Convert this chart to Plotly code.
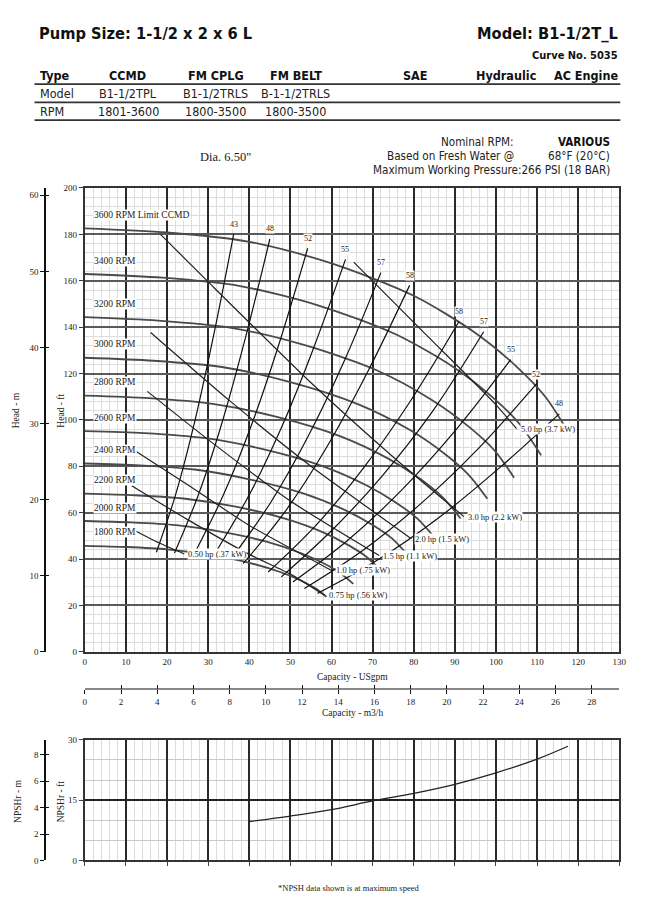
import plotly.graph_objects as go

W, H = 648, 910
GPM_TO_M3H = 0.2271247
FT_TO_M = 0.3048

SERIF = "Liberation Serif, Times New Roman, serif"
SANS = "Liberation Sans Narrow, DejaVu Sans Condensed, Roboto, sans-serif"

# ---------------- data ----------------
RPM_NAMES = ["3600 RPM Limit CCMD", "3400 RPM", "3200 RPM", "3000 RPM", "2800 RPM",
             "2600 RPM", "2400 RPM", "2200 RPM", "2000 RPM", "1800 RPM"]
RPM_Q = [
    [0, 20, 40, 60, 80, 95, 105, 112, 117.5],
    [0, 18.9, 37.8, 56.7, 75.6, 89.7, 99.2, 105.8, 111.0],
    [0, 17.8, 35.6, 53.3, 71.1, 84.4, 93.3, 99.6, 104.4],
    [0, 16.7, 33.3, 50.0, 66.7, 79.2, 87.5, 93.3, 97.9],
    [0, 15.6, 31.1, 46.7, 62.2, 73.9, 81.7, 87.1, 91.4],
    [0, 14.4, 28.9, 43.3, 57.8, 68.6, 75.8, 80.9, 84.9],
    [0, 13.3, 26.7, 40.0, 53.3, 63.3, 70.0, 74.7, 78.3],
    [0, 12.2, 24.4, 36.7, 48.9, 58.1, 64.2, 68.4, 71.8],
    [0, 11.1, 22.2, 33.3, 44.4, 52.8, 58.3, 62.2, 65.3],
    [0, 10.0, 20.0, 30.0, 40.0, 47.5, 52.5, 56.0, 58.75],
]
RPM_H = [
    [182.6, 180.8, 176.8, 167.5, 153.5, 137.5, 123.0, 110.0, 95.0],
    [162.9, 161.3, 157.7, 149.4, 136.9, 122.7, 109.7, 98.1, 84.7],
    [144.3, 142.8, 139.7, 132.3, 121.3, 108.6, 97.2, 86.9, 75.1],
    [126.8, 125.5, 122.8, 116.3, 106.6, 95.5, 85.4, 76.4, 66.0],
    [110.5, 109.4, 106.9, 101.3, 92.9, 83.2, 74.4, 66.5, 57.5],
    [95.2, 94.3, 92.2, 87.4, 80.1, 71.7, 64.2, 57.4, 49.6],
    [81.2, 80.4, 78.6, 74.4, 68.2, 61.1, 54.7, 48.9, 42.2],
    [68.2, 67.5, 66.0, 62.6, 57.3, 51.4, 45.9, 41.1, 35.5],
    [56.4, 55.8, 54.6, 51.7, 47.4, 42.4, 38.0, 33.9, 29.3],
    [45.7, 45.2, 44.2, 41.9, 38.4, 34.4, 30.75, 27.5, 23.75],
]

EFF_NAMES = ["43", "48", "52", "55", "57", "58", "58", "57", "55", "52", "48"]
EFF_Q = [
    [17.4, 22.1, 26.8, 31.5, 36.2],
    [21.8, 27.6, 33.4, 39.2, 45.0],
    [27.0, 33.8, 40.6, 47.4, 54.2],
    [32.2, 40.0, 47.8, 55.6, 63.4],
    [36.2, 45.2, 54.1, 63.1, 72.0],
    [38.5, 48.6, 58.75, 68.9, 79.0],
    [44.6, 56.2, 67.8, 79.4, 91.0],
    [47.8, 60.1, 72.4, 84.7, 97.0],
    [50.6, 63.9, 77.1, 90.4, 103.6],
    [53.4, 67.5, 81.6, 95.7, 109.8],
    [56.6, 71.3, 86.0, 100.7, 115.4],
]
EFF_H = [
    [42.9, 67.9, 99.8, 137.9, 180.0],
    [42.6, 67.6, 99.0, 136.3, 178.0],
    [43.6, 68.0, 98.1, 133.7, 174.0],
    [44.0, 67.7, 96.6, 130.8, 169.2],
    [41.5, 64.4, 92.2, 125.4, 163.5],
    [38.0, 60.2, 88.0, 121.1, 158.0],
    [34.4, 54.5, 79.3, 108.7, 142.4],
    [32.3, 52.4, 76.0, 104.0, 138.0],
    [30.1, 48.0, 69.8, 96.0, 126.0],
    [27.3, 43.6, 63.7, 87.6, 115.4],
    [25.2, 39.7, 57.7, 79.1, 102.6],
]

POWER_NAMES = ["0.50 hp (.37 kW)", "0.75 hp (.56 kW)", "1.0 hp (.75 kW)", "1.5 hp (1.1 kW)",
               "2.0 hp (1.5 kW)", "3.0 hp (2.2 kW)", "5.0 hp (3.7 kW)"]
POWER_Q = [
    [12.2, 18.0, 24.2],
    [11.4, 25.0, 40.0, 50.0, 58.3],
    [12.6, 25.0, 40.0, 60.0],
    [15.2, 30.0, 50.0, 71.6],
    [16.0, 35.2, 55.0, 79.4],
    [18.4, 30.0, 55.0, 75.0, 92.2],
    [65.4, 82.0, 99.8, 105.0],
]
POWER_H = [
    [52.2, 47.0, 42.2],
    [71.6, 57.0, 42.0, 33.5, 24.4],
    [86.3, 72.0, 54.5, 35.1],
    [112.3, 91.5, 65.0, 41.5],
    [137.7, 108.3, 80.0, 48.8],
    [180.0, 159.5, 116.0, 84.0, 58.3],
    [168.0, 138.5, 106.9, 96.2],
]

NPSH_Q = [40, 50, 60, 70, 80, 90, 100, 110, 117.5]
NPSH_FT = [9.7, 11.05, 12.66, 14.8, 16.7, 18.95, 21.8, 25.2, 28.4]

GPM_TICKS = list(range(0, 131, 10))
FT_TICKS = list(range(0, 201, 20))

# ---------------- figure ----------------
X_DOM = [84 / W, 626 / W]
Y_MAIN = [1 - 654 / H, 1 - 185 / H]
Y_NPSH = [1 - 865 / H, 1 - 743 / H]

fig = go.Figure()

for q, h in zip(RPM_Q, RPM_H):
    fig.add_trace(go.Scatter(x=q, y=h, mode="lines", line=dict(color="#4a4a4a", width=1.8, shape="spline", smoothing=0.8),
                             hoverinfo="skip", showlegend=False))
for q, h in zip(EFF_Q, EFF_H):
    fig.add_trace(go.Scatter(x=q, y=h, mode="lines", line=dict(color="#111111", width=1.2, shape="spline"),
                             hoverinfo="skip", showlegend=False))
for q, h in zip(POWER_Q, POWER_H):
    fig.add_trace(go.Scatter(x=q, y=h, mode="lines", line=dict(color="#222222", width=1.2, shape="spline", smoothing=0.6),
                             hoverinfo="skip", showlegend=False))

fig.add_trace(go.Scatter(x=NPSH_Q, y=NPSH_FT, xaxis="x3", yaxis="y3", mode="lines",
                         line=dict(color="#222222", width=1.3, shape="spline"), hoverinfo="skip", showlegend=False))

# helper invisible traces so the secondary axes render
for xa, ya in (("x2", "y"), ("x4", "y"), ("x", "y2"), ("x", "y5"), ("x3", "y4"), ("x3", "y6")):
    fig.add_trace(go.Scatter(x=[0], y=[0], xaxis=xa, yaxis=ya, mode="markers", marker=dict(opacity=0),
                             hoverinfo="skip", showlegend=False))

tickfont = dict(family=SERIF, size=9, color="#222")


def cross_axis(**kw):
    # second copy of a free axis carrying the inward half of the crossing tick marks
    base = dict(anchor="free", showgrid=False, showline=False, ticks="inside", ticklen=4, tickcolor="#111",
                showticklabels=False, zeroline=False)
    base.update(kw)
    return base


fig.update_layout(
    width=W, height=H, margin=dict(l=0, r=0, t=0, b=0),
    paper_bgcolor="white", plot_bgcolor="white",
    xaxis=dict(domain=X_DOM, anchor="y", range=[0, 130], tickvals=GPM_TICKS, showgrid=True,
               gridcolor="#2a2a2a", gridwidth=2,
               minor=dict(dtick=2, showgrid=True, gridcolor="#dddddd", gridwidth=1),
               showline=True, linecolor="#333", linewidth=2, mirror=True, ticks="",
               tickfont=tickfont, zeroline=False),
    yaxis=dict(domain=Y_MAIN, anchor="x", range=[0, 200], tickvals=FT_TICKS, showgrid=True,
               gridcolor="#5a5a5a", gridwidth=2,
               minor=dict(dtick=4, showgrid=True, gridcolor="#dddddd", gridwidth=1),
               showline=True, linecolor="#333", linewidth=2, mirror=True, ticks="outside", ticklen=4,
               tickcolor="#333", tickfont=tickfont, zeroline=False),
    yaxis2=dict(overlaying="y", anchor="free", position=43 / W, range=[0, 200 * FT_TO_M], dtick=10,
                showgrid=False, showline=True, linecolor="#111", linewidth=1.5, ticks="outside", ticklen=4,
                tickcolor="#111", tickfont=tickfont, zeroline=False),
    yaxis5=cross_axis(overlaying="y", position=43 / W, range=[0, 200 * FT_TO_M], dtick=10),
    xaxis2=dict(overlaying="x", anchor="free", position=1 - 692 / H, range=[0, 130 * GPM_TO_M3H], dtick=2,
                showgrid=False, showline=True, linecolor="#888", linewidth=2, ticks="outside", ticklen=4,
                tickcolor="#111", tickfont=tickfont, zeroline=False),
    xaxis4=cross_axis(overlaying="x", position=1 - 692 / H, range=[0, 130 * GPM_TO_M3H], dtick=2),
    xaxis3=dict(domain=X_DOM, anchor="y3", range=[0, 130], tickvals=GPM_TICKS, showgrid=True,
                gridcolor="#2a2a2a", gridwidth=2,
                minor=dict(dtick=2, showgrid=True, gridcolor="#dddddd", gridwidth=1),
                showline=True, linecolor="#333", linewidth=2, mirror=True, ticks="outside", ticklen=4,
                showticklabels=False, zeroline=False),
    yaxis3=dict(domain=Y_NPSH, anchor="x3", range=[0, 30], tickvals=[0, 15, 30], showgrid=True,
                gridcolor="#222", gridwidth=2,
                minor=dict(dtick=5, showgrid=True, gridcolor="#c8c8c8", gridwidth=1),
                showline=True, linecolor="#333", linewidth=2, mirror=True, ticks="outside", ticklen=4,
                tickfont=tickfont, zeroline=False),
    yaxis4=dict(overlaying="y3", anchor="free", position=43 / W, range=[0, 30 * FT_TO_M], dtick=2,
                showgrid=False, showline=True, linecolor="#111", linewidth=1.5, ticks="outside", ticklen=4,
                tickcolor="#111", tickfont=tickfont, zeroline=False),
    yaxis6=cross_axis(overlaying="y3", position=43 / W, range=[0, 30 * FT_TO_M], dtick=2),
)

ann = []


def paper_text(text, x, y, size, family=SANS, bold=False, xanchor="left", color="#111", angle=0):
    ann.append(dict(text=f"<b>{text}</b>" if bold else text, x=x / W, y=1 - y / H, xref="paper", yref="paper",
                    xanchor=xanchor, yanchor="middle", showarrow=False, textangle=angle,
                    font=dict(family=family, size=size, color=color)))


# header
paper_text("Pump Size: 1-1/2 x 2 x 6 L", 35, 29, 16.3, bold=True)
paper_text("Model: B1-1/2T_L", 627, 29, 16.3, bold=True, xanchor="right")
paper_text("Curve No. 5035", 627, 51, 11, bold=True, xanchor="right")

COLS = [("Type", 37, "left"), ("CCMD", 127, "center"), ("FM CPLG", 217, "center"), ("FM BELT", 298, "center"),
        ("SAE", 419, "center"), ("Hydraulic", 511, "center"), ("AC Engine", 627, "right")]
for t, x, a in COLS:
    paper_text(t, x, 71, 12.5, bold=True, xanchor=a)
ROW_MODEL = [("Model", 37, "left"), ("B1-1/2TPL", 128, "center"), ("B1-1/2TRLS", 217, "center"),
             ("B-1-1/2TRLS", 298, "center")]
ROW_RPM = [("RPM", 37, "left"), ("1801-3600", 128, "center"), ("1800-3500", 217, "center"),
           ("1800-3500", 298, "center")]
for t, x, a in ROW_MODEL:
    paper_text(t, x, 89.5, 12.5, xanchor=a, color="#222")
for t, x, a in ROW_RPM:
    paper_text(t, x, 107.5, 12.5, xanchor=a, color="#222")

paper_text("Nominal RPM:", 521, 138.5, 11.6, xanchor="right", color="#222")
paper_text("VARIOUS", 619, 138.5, 11.6, bold=True, xanchor="right")
paper_text("Based on Fresh Water @", 521, 153, 11.6, xanchor="right", color="#222")
paper_text("68°F (20°C)", 619, 153, 11.6, xanchor="right", color="#222")
paper_text("Maximum Working Pressure:266 PSI (18 BAR)", 619, 167, 11.6, xanchor="right", color="#222")
paper_text('Dia. 6.50"', 227, 153.5, 12.5, family=SERIF, xanchor="center", color="#222")

# axis titles
paper_text("Capacity - USgpm", 355, 679, 9.5, family=SERIF, xanchor="center", color="#222")
paper_text("Capacity - m3/h", 355, 716, 9.5, family=SERIF, xanchor="center", color="#222")
paper_text("Head - m", 15, 410, 9.5, family=SERIF, xanchor="center", color="#222", angle=-90)
paper_text("Head - ft", 60, 410, 9.5, family=SERIF, xanchor="center", color="#222", angle=-90)
paper_text("NPSHr - m", 16, 805, 9.5, family=SERIF, xanchor="center", color="#222", angle=-90)
paper_text("NPSHr - ft", 60, 805, 9.5, family=SERIF, xanchor="center", color="#222", angle=-90)
paper_text("*NPSH data shown is at maximum speed", 351, 893, 8.5, family=SERIF, xanchor="center", color="#222")

# curve labels (data coordinates)
for name, q, h in zip(RPM_NAMES, RPM_Q, RPM_H):
    ann.append(dict(text=name, x=q[0], y=h[0], xref="x", yref="y", xanchor="left", yanchor="middle",
                    xshift=8, yshift=13.5, showarrow=False, bgcolor="white", borderpad=0,
                    font=dict(family=SERIF, size=9.5, color="#222")))
for name, q, h in zip(EFF_NAMES, EFF_Q, EFF_H):
    ann.append(dict(text=name, x=q[-1], y=h[-1], xref="x", yref="y", xanchor="center", yanchor="middle",
                    yshift=10, showarrow=False, bgcolor="white", borderpad=0,
                    font=dict(family=SERIF, size=8, color="#222")))
for name, q, h in zip(POWER_NAMES, POWER_Q, POWER_H):
    ann.append(dict(text=name, x=q[-1], y=h[-1], xref="x", yref="y", xanchor="left", yanchor="middle",
                    xshift=3, showarrow=False, bgcolor="white", borderpad=0,
                    font=dict(family=SERIF, size=8.5, color="#222")))

fig.update_layout(annotations=ann)

shapes = []
for y in (80, 98.5, 116.5):
    shapes.append(dict(type="line", xref="paper", yref="paper", x0=33 / W, x1=627 / W, y0=1 - y / H, y1=1 - y / H,
                       line=dict(color="#333", width=1.8)))
fig.update_layout(shapes=shapes)

fig.write_html("out.html", config={"displayModeBar": False, "staticPlot": True},
               post_script="document.body.style.margin='0';document.body.style.overflow='hidden';")
